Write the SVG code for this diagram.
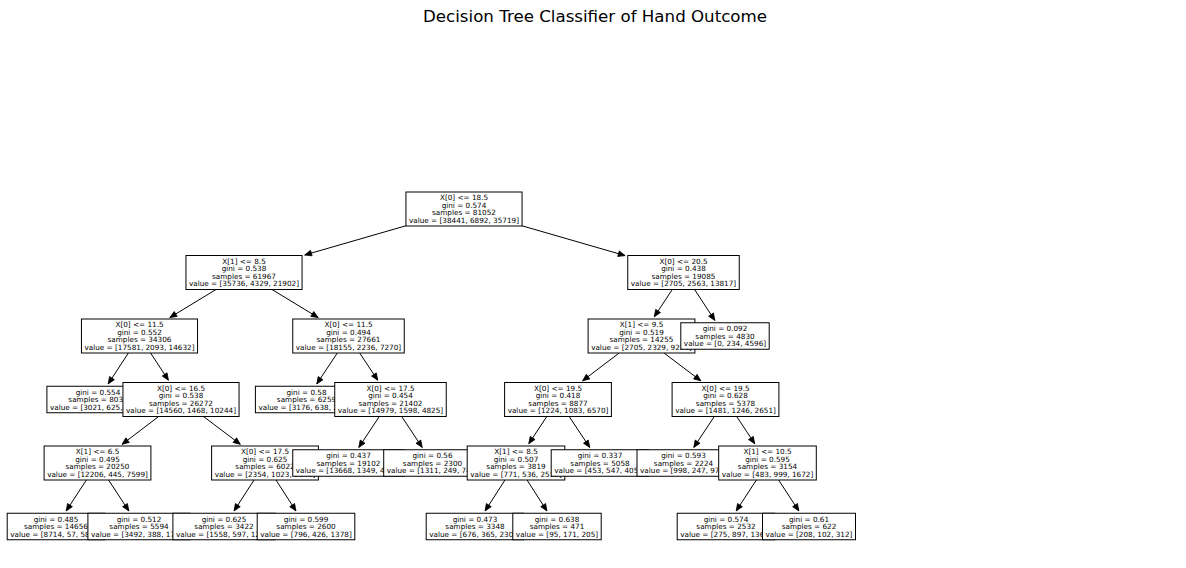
<svg xmlns="http://www.w3.org/2000/svg" width="1186" height="568" viewBox="0 0 1186 568">
<style>
.box{fill:#fff;stroke:#000;stroke-width:1}
.t{font-family:"DejaVu Sans",sans-serif;font-size:7.26px;text-anchor:middle;fill:#000}
.title{font-family:"DejaVu Sans",sans-serif;font-size:16.67px;text-anchor:middle;fill:#000}
.e{stroke:#000;stroke-width:1;fill:none;marker-end:url(#ah)}
</style>
<defs>
<marker id="ah" markerUnits="userSpaceOnUse" markerWidth="10" markerHeight="10" refX="0" refY="0" viewBox="-7 -4 8 8" orient="auto">
<path d="M0,0 L-5.5,-2.3 L-5.5,2.3 z" fill="#000" stroke="#000" stroke-width="0.6"/>
</marker>
</defs>
<rect width="1186" height="568" fill="#fff"/>
<text class="title" x="595" y="22">Decision Tree Classifier of Hand Outcome</text>
<g id="connectors">
<line class="e" x1="405.95" y1="225.76" x2="304.7" y2="255.0"/>
<line class="e" x1="522.05" y1="225.8" x2="625.1" y2="255.6"/>
<line class="e" x1="216.0" y1="289.5" x2="169.85" y2="317.56"/>
<line class="e" x1="128.4" y1="353" x2="108.2" y2="383.9"/>
<line class="e" x1="150.6" y1="353" x2="168.4" y2="380.2"/>
<line class="e" x1="158.65" y1="416.5" x2="122.1" y2="444.3"/>
<line class="e" x1="86.4" y1="480" x2="66.2" y2="510.9"/>
<line class="e" x1="108.6" y1="480" x2="128.8" y2="510.9"/>
<line class="e" x1="203.5" y1="416.5" x2="240.3" y2="444.3"/>
<line class="e" x1="254.0" y1="480" x2="234.1" y2="510.9"/>
<line class="e" x1="276.0" y1="480" x2="295.9" y2="510.9"/>
<line class="e" x1="272.0" y1="289.5" x2="318.15" y2="317.56"/>
<line class="e" x1="337.3" y1="353" x2="316.8" y2="383.9"/>
<line class="e" x1="359.7" y1="353" x2="377.7" y2="380.2"/>
<line class="e" x1="379.3" y1="416.5" x2="358.8" y2="447.4"/>
<line class="e" x1="401.7" y1="416.5" x2="422.2" y2="447.4"/>
<line class="e" x1="672.3" y1="289.5" x2="654.3" y2="316.7"/>
<line class="e" x1="619.15" y1="353" x2="582.6" y2="380.8"/>
<line class="e" x1="546.8" y1="416.5" x2="528.8" y2="443.7"/>
<line class="e" x1="505.0" y1="480" x2="485.1" y2="510.9"/>
<line class="e" x1="527.0" y1="480" x2="546.9" y2="510.9"/>
<line class="e" x1="569.2" y1="416.5" x2="589.7" y2="447.4"/>
<line class="e" x1="664.0" y1="353" x2="700.8" y2="380.8"/>
<line class="e" x1="714.3" y1="416.5" x2="693.8" y2="447.4"/>
<line class="e" x1="736.7" y1="416.5" x2="754.7" y2="443.7"/>
<line class="e" x1="756.4" y1="480" x2="736.2" y2="510.9"/>
<line class="e" x1="778.6" y1="480" x2="798.8" y2="510.9"/>
<line class="e" x1="694.6" y1="289.5" x2="714.8" y2="320.4"/>
</g>
<g id="n_root"><rect class="box" x="405.95" y="192" width="116.1" height="34"/><text class="t" x="464" y="200.35">X[0] &lt;= 18.5<tspan x="464" dy="7.5">gini = 0.574</tspan><tspan x="464" dy="7.5">samples = 81052</tspan><tspan x="464" dy="7.5">value = [38441, 6892, 35719]</tspan></text></g>
<g id="n_A"><rect class="box" x="185.95" y="255.5" width="116.1" height="34"/><text class="t" x="244" y="263.85">X[1] &lt;= 8.5<tspan x="244" dy="7.5">gini = 0.538</tspan><tspan x="244" dy="7.5">samples = 61967</tspan><tspan x="244" dy="7.5">value = [35736, 4329, 21902]</tspan></text></g>
<g id="n_C"><rect class="box" x="81.45" y="319" width="116.1" height="34"/><text class="t" x="139.5" y="327.35">X[0] &lt;= 11.5<tspan x="139.5" dy="7.5">gini = 0.552</tspan><tspan x="139.5" dy="7.5">samples = 34306</tspan><tspan x="139.5" dy="7.5">value = [17581, 2093, 14632]</tspan></text></g>
<g id="n_G"><rect class="box" x="46.9" y="386.25" width="102.2" height="26.5"/><text class="t" x="98" y="394.6">gini = 0.554<tspan x="98" dy="7.5">samples = 8034</tspan><tspan x="98" dy="7.5">value = [3021, 625, 4388]</tspan></text></g>
<g id="n_H"><rect class="box" x="122.95" y="382.5" width="116.1" height="34"/><text class="t" x="181" y="390.85">X[0] &lt;= 16.5<tspan x="181" dy="7.5">gini = 0.538</tspan><tspan x="181" dy="7.5">samples = 26272</tspan><tspan x="181" dy="7.5">value = [14560, 1468, 10244]</tspan></text></g>
<g id="n_M"><rect class="box" x="44.1" y="446" width="106.8" height="34"/><text class="t" x="97.5" y="454.35">X[1] &lt;= 6.5<tspan x="97.5" dy="7.5">gini = 0.495</tspan><tspan x="97.5" dy="7.5">samples = 20250</tspan><tspan x="97.5" dy="7.5">value = [12206, 445, 7599]</tspan></text></g>
<g id="n_U"><rect class="box" x="7.2" y="513.25" width="97.6" height="26.5"/><text class="t" x="56" y="521.6">gini = 0.485<tspan x="56" dy="7.5">samples = 14656</tspan><tspan x="56" dy="7.5">value = [8714, 57, 5885]</tspan></text></g>
<g id="n_V"><rect class="box" x="87.9" y="513.25" width="102.2" height="26.5"/><text class="t" x="139" y="521.6">gini = 0.512<tspan x="139" dy="7.5">samples = 5594</tspan><tspan x="139" dy="7.5">value = [3492, 388, 1714]</tspan></text></g>
<g id="n_N"><rect class="box" x="211.6" y="446" width="106.8" height="34"/><text class="t" x="265" y="454.35">X[0] &lt;= 17.5<tspan x="265" dy="7.5">gini = 0.625</tspan><tspan x="265" dy="7.5">samples = 6022</tspan><tspan x="265" dy="7.5">value = [2354, 1023, 2645]</tspan></text></g>
<g id="n_W"><rect class="box" x="172.9" y="513.25" width="102.2" height="26.5"/><text class="t" x="224" y="521.6">gini = 0.625<tspan x="224" dy="7.5">samples = 3422</tspan><tspan x="224" dy="7.5">value = [1558, 597, 1267]</tspan></text></g>
<g id="n_X"><rect class="box" x="257.2" y="513.25" width="97.6" height="26.5"/><text class="t" x="306" y="521.6">gini = 0.599<tspan x="306" dy="7.5">samples = 2600</tspan><tspan x="306" dy="7.5">value = [796, 426, 1378]</tspan></text></g>
<g id="n_D"><rect class="box" x="292.75" y="319" width="111.5" height="34"/><text class="t" x="348.5" y="327.35">X[0] &lt;= 11.5<tspan x="348.5" dy="7.5">gini = 0.494</tspan><tspan x="348.5" dy="7.5">samples = 27661</tspan><tspan x="348.5" dy="7.5">value = [18155, 2236, 7270]</tspan></text></g>
<g id="n_I"><rect class="box" x="255.4" y="386.25" width="102.2" height="26.5"/><text class="t" x="306.5" y="394.6">gini = 0.58<tspan x="306.5" dy="7.5">samples = 6259</tspan><tspan x="306.5" dy="7.5">value = [3176, 638, 2445]</tspan></text></g>
<g id="n_J"><rect class="box" x="334.75" y="382.5" width="111.5" height="34"/><text class="t" x="390.5" y="390.85">X[0] &lt;= 17.5<tspan x="390.5" dy="7.5">gini = 0.454</tspan><tspan x="390.5" dy="7.5">samples = 21402</tspan><tspan x="390.5" dy="7.5">value = [14979, 1598, 4825]</tspan></text></g>
<g id="n_O"><rect class="box" x="292.75" y="449.75" width="111.5" height="26.5"/><text class="t" x="348.5" y="458.1">gini = 0.437<tspan x="348.5" dy="7.5">samples = 19102</tspan><tspan x="348.5" dy="7.5">value = [13668, 1349, 4085]</tspan></text></g>
<g id="n_P"><rect class="box" x="383.7" y="449.75" width="97.6" height="26.5"/><text class="t" x="432.5" y="458.1">gini = 0.56<tspan x="432.5" dy="7.5">samples = 2300</tspan><tspan x="432.5" dy="7.5">value = [1311, 249, 740]</tspan></text></g>
<g id="n_B"><rect class="box" x="627.75" y="255.5" width="111.5" height="34"/><text class="t" x="683.5" y="263.85">X[0] &lt;= 20.5<tspan x="683.5" dy="7.5">gini = 0.438</tspan><tspan x="683.5" dy="7.5">samples = 19085</tspan><tspan x="683.5" dy="7.5">value = [2705, 2563, 13817]</tspan></text></g>
<g id="n_E"><rect class="box" x="588.1" y="319" width="106.8" height="34"/><text class="t" x="641.5" y="327.35">X[1] &lt;= 9.5<tspan x="641.5" dy="7.5">gini = 0.519</tspan><tspan x="641.5" dy="7.5">samples = 14255</tspan><tspan x="641.5" dy="7.5">value = [2705, 2329, 9221]</tspan></text></g>
<g id="n_K"><rect class="box" x="504.6" y="382.5" width="106.8" height="34"/><text class="t" x="558" y="390.85">X[0] &lt;= 19.5<tspan x="558" dy="7.5">gini = 0.418</tspan><tspan x="558" dy="7.5">samples = 8877</tspan><tspan x="558" dy="7.5">value = [1224, 1083, 6570]</tspan></text></g>
<g id="n_Q"><rect class="box" x="467.2" y="446" width="97.6" height="34"/><text class="t" x="516" y="454.35">X[1] &lt;= 8.5<tspan x="516" dy="7.5">gini = 0.507</tspan><tspan x="516" dy="7.5">samples = 3819</tspan><tspan x="516" dy="7.5">value = [771, 536, 2512]</tspan></text></g>
<g id="n_Y"><rect class="box" x="426.2" y="513.25" width="97.6" height="26.5"/><text class="t" x="475" y="521.6">gini = 0.473<tspan x="475" dy="7.5">samples = 3348</tspan><tspan x="475" dy="7.5">value = [676, 365, 2307]</tspan></text></g>
<g id="n_Z"><rect class="box" x="512.8" y="513.25" width="88.4" height="26.5"/><text class="t" x="557" y="521.6">gini = 0.638<tspan x="557" dy="7.5">samples = 471</tspan><tspan x="557" dy="7.5">value = [95, 171, 205]</tspan></text></g>
<g id="n_R"><rect class="box" x="551.2" y="449.75" width="97.6" height="26.5"/><text class="t" x="600" y="458.1">gini = 0.337<tspan x="600" dy="7.5">samples = 5058</tspan><tspan x="600" dy="7.5">value = [453, 547, 4058]</tspan></text></g>
<g id="n_L"><rect class="box" x="672.1" y="382.5" width="106.8" height="34"/><text class="t" x="725.5" y="390.85">X[0] &lt;= 19.5<tspan x="725.5" dy="7.5">gini = 0.628</tspan><tspan x="725.5" dy="7.5">samples = 5378</tspan><tspan x="725.5" dy="7.5">value = [1481, 1246, 2651]</tspan></text></g>
<g id="n_S"><rect class="box" x="637" y="449.75" width="93" height="26.5"/><text class="t" x="683.5" y="458.1">gini = 0.593<tspan x="683.5" dy="7.5">samples = 2224</tspan><tspan x="683.5" dy="7.5">value = [998, 247, 979]</tspan></text></g>
<g id="n_T"><rect class="box" x="718.7" y="446" width="97.6" height="34"/><text class="t" x="767.5" y="454.35">X[1] &lt;= 10.5<tspan x="767.5" dy="7.5">gini = 0.595</tspan><tspan x="767.5" dy="7.5">samples = 3154</tspan><tspan x="767.5" dy="7.5">value = [483, 999, 1672]</tspan></text></g>
<g id="n_AA"><rect class="box" x="677.2" y="513.25" width="97.6" height="26.5"/><text class="t" x="726" y="521.6">gini = 0.574<tspan x="726" dy="7.5">samples = 2532</tspan><tspan x="726" dy="7.5">value = [275, 897, 1360]</tspan></text></g>
<g id="n_AB"><rect class="box" x="762.5" y="513.25" width="93" height="26.5"/><text class="t" x="809" y="521.6">gini = 0.61<tspan x="809" dy="7.5">samples = 622</tspan><tspan x="809" dy="7.5">value = [208, 102, 312]</tspan></text></g>
<g id="n_F"><rect class="box" x="680.8" y="322.75" width="88.4" height="26.5"/><text class="t" x="725" y="331.1">gini = 0.092<tspan x="725" dy="7.5">samples = 4830</tspan><tspan x="725" dy="7.5">value = [0, 234, 4596]</tspan></text></g>
</svg>
